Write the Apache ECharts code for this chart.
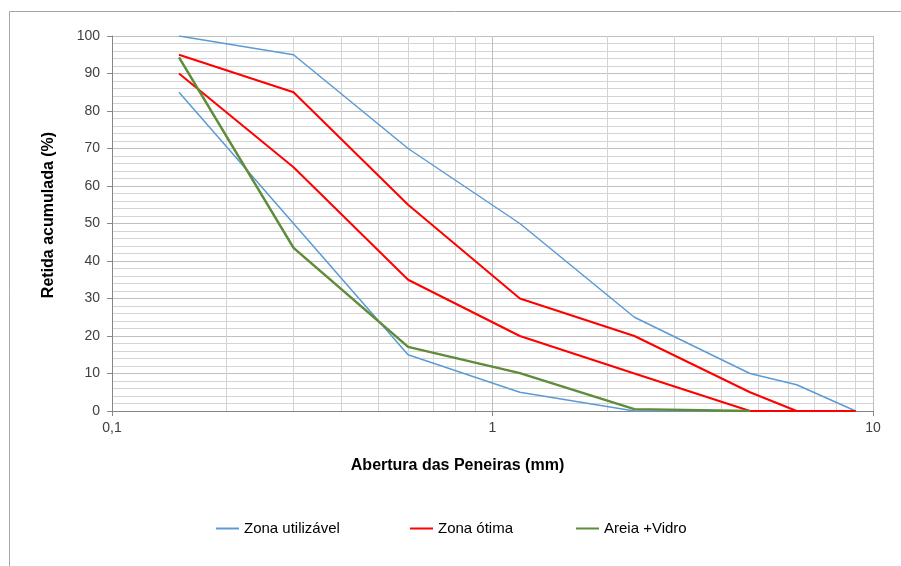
<!DOCTYPE html>
<html>
<head>
<meta charset="utf-8">
<script src="https://cdn.jsdelivr.net/npm/echarts@6/dist/echarts.min.js"></script>
<style>
html,body{margin:0;padding:0;background:#fff;}
#chart{width:901px;height:566px;}
</style>
</head>
<body>
<div id="chart"></div>
<script>
// Sieve openings (mm)
var sieves = [0.15, 0.3, 0.6, 1.18, 2.36, 4.75, 6.3, 9];
// Zona utilizável (limits)
var utilUpper = [100, 95, 70, 50, 25, 10, 7, 0];
var utilLower = [85, 50, 15, 5, 0, 0, 0, 0];
// Zona ótima (limits)
var otimaUpper = [95, 85, 55, 30, 20, 5, 0, 0];
var otimaLower = [90, 65, 35, 20, 10, 0, 0, 0];
// Areia + Vidro
var areiaSieves = [0.15, 0.3, 0.6, 1.18, 2.36, 4.75];
var areiaVidro = [94.3, 43.5, 17.1, 10.1, 0.5, 0];
// Minor vertical gridlines (log)
var minorX = [0.2, 0.3, 0.4, 0.5, 0.6, 0.7, 0.8, 0.9, 2, 3, 4, 5, 6, 7, 8, 9];
var xTickLabels = {0.1: '0,1', 1: '1', 10: '10'};

function pairs(xs, ys) { return xs.map(function (x, i) { return [x, ys[i]]; }); }

var BLUE = '#5B9BD5', RED = '#FF0000', GREEN = '#5E8C3A';
var FONT = 'Liberation Sans, Arial, sans-serif';

function lineSeries(name, data, color, width, z) {
  return {
    name: name, type: 'line', data: data, symbol: 'none', z: z,
    lineStyle: {color: color, width: width}, itemStyle: {color: color},
    emphasis: {disabled: true}, animation: false
  };
}

var chart = echarts.init(document.getElementById('chart'));
var series = [
  lineSeries('Zona utilizável', pairs(sieves, utilUpper), BLUE, 1.5, 3),
  lineSeries('Zona utilizável', pairs(sieves, utilLower), BLUE, 1.5, 3),
  lineSeries('Zona ótima', pairs(sieves, otimaUpper), RED, 2, 4),
  lineSeries('Zona ótima', pairs(sieves, otimaLower), RED, 2, 4),
  lineSeries('Areia +Vidro', pairs(areiaSieves, areiaVidro), GREEN, 2.5, 5)
];
series[0].markLine = {
  silent: true, symbol: 'none', label: {show: false}, animation: false,
  lineStyle: {color: '#d4d4d4', width: 1, type: 'solid'},
  data: minorX.map(function (v) { return {xAxis: v}; })
};
series[0].markLine.z = 1;

var legendText = {fontFamily: FONT, fontSize: 15, color: '#000'};

chart.setOption({
  animation: false,
  backgroundColor: '#fff',
  graphic: [{
    type: 'rect', shape: {x: 9.5, y: 11.5, width: 1000, height: 1000},
    style: {fill: 'none', stroke: '#a6a6a6', lineWidth: 1}, silent: true, z: -1
  }],
  grid: {left: 112, right: 28, top: 36, bottom: 155, containLabel: false},
  legend: [
    {data: ['Zona utilizável'], left: 211, top: 516, icon: 'rect', itemWidth: 23, itemHeight: 2,
     textStyle: legendText, selectedMode: false},
    {data: ['Zona ótima'], left: 405, top: 516, icon: 'rect', itemWidth: 23, itemHeight: 2,
     textStyle: legendText, selectedMode: false},
    {data: ['Areia +Vidro'], left: 571, top: 516, icon: 'rect', itemWidth: 23, itemHeight: 2,
     textStyle: legendText, selectedMode: false}
  ],
  xAxis: {
    type: 'log', logBase: 10, min: 0.1, max: 10,
    name: 'Abertura das Peneiras (mm)', nameLocation: 'middle', nameGap: 47,
    nameTextStyle: {fontFamily: FONT, fontSize: 16, fontWeight: 'bold', color: '#000', padding: [0, 70, 0, 0]},
    axisLine: {lineStyle: {color: '#868686', width: 1}},
    axisTick: {show: true, length: 5, lineStyle: {color: '#868686'}},
    axisLabel: {fontFamily: FONT, fontSize: 14, color: '#404040', margin: 10,
      formatter: function (v) { var k = Math.round(v * 1000) / 1000; return xTickLabels[k] || ''; }},
    splitLine: {show: true, lineStyle: {color: '#bfbfbf', width: 1}}
  },
  yAxis: {
    type: 'value', min: 0, max: 100, interval: 10,
    name: 'Retida acumulada (%)', nameLocation: 'middle', nameGap: 55,
    nameTextStyle: {fontFamily: FONT, fontSize: 16, fontWeight: 'bold', color: '#000', padding: [0, 0, 0, 17]},
    axisLine: {show: true, lineStyle: {color: '#868686', width: 1}},
    axisTick: {show: true, length: 5, lineStyle: {color: '#868686'}},
    axisLabel: {fontFamily: FONT, fontSize: 14, color: '#404040', margin: 12},
    splitLine: {show: true, lineStyle: {color: '#bfbfbf', width: 1}},
    minorTick: {show: false, splitNumber: 5},
    minorSplitLine: {show: true, lineStyle: {color: '#d4d4d4', width: 1}}
  },
  series: series
});
</script>
</body>
</html>
